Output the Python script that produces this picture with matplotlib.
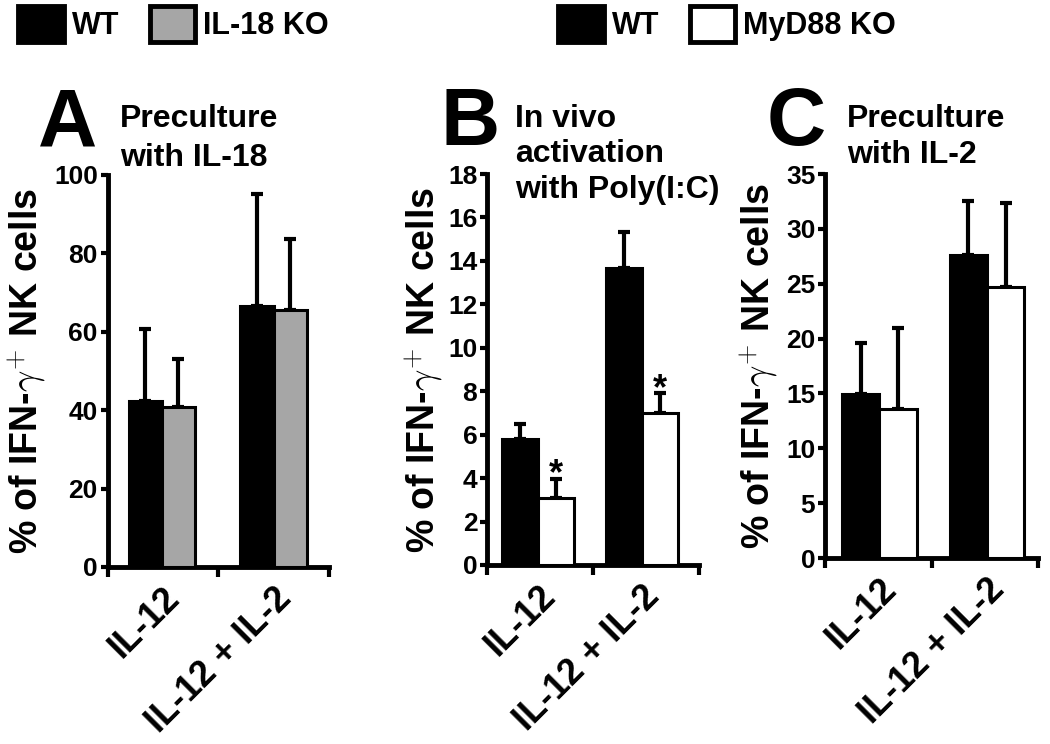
import matplotlib
matplotlib.use("Agg")
import matplotlib.pyplot as plt
from matplotlib.patches import Patch

plt.rcParams["font.family"] = ["Liberation Sans", "DejaVu Sans"]
plt.rcParams["font.weight"] = "bold"
plt.rcParams["mathtext.fontset"] = "cm"

# data
groups = ["IL-12", "IL-12 + IL-2"]

a_wt = [42.3, 66.7]
a_wt_err = [18.5, 28.4]
a_ko = [40.8, 65.6]
a_ko_err = [12.3, 18.0]

b_wt = [5.8, 13.66]
b_wt_err = [0.7, 1.65]
b_ko = [3.1, 7.0]
b_ko_err = [0.87, 0.9]
b_stars = ["*", "*"]

c_wt = [14.95, 27.6]
c_wt_err = [4.65, 4.9]
c_ko = [13.6, 24.7]
c_ko_err = [7.36, 7.7]

legend_a = ["WT", "IL-18 KO"]
legend_b = ["WT", "MyD88 KO"]
letters = ["A", "B", "C"]
titles = [["Preculture", "with IL-18"],
          ["In vivo", "activation", "with Poly(I:C)"],
          ["Preculture", "with IL-2"]]
ylabel = r"% of IFN-$\gamma^{\mathbf{+}}$ NK cells"

W, H = 1050, 744
fig = plt.figure(figsize=(W / 100, H / 100), dpi=100)


def px_axes(x0, x1, y_top, y_bot):
    return fig.add_axes([x0 / W, 1 - y_bot / H, (x1 - x0) / W, (y_bot - y_top) / H])


def panel(ax, wt, wt_err, ko, ko_err, ko_color, ymax, ystep, centers, width, label_x):
    x_wt = [c - width / 2 for c in centers]
    x_ko = [c + width / 2 for c in centers]
    ax.bar(x_wt, wt, width, color="black", edgecolor="black", linewidth=2.2, zorder=3)
    ax.bar(x_ko, ko, width, color=ko_color, edgecolor="black", linewidth=2.2, zorder=3)
    ax.errorbar(x_wt, wt, yerr=[[0] * len(wt), wt_err], fmt="none", ecolor="black",
                elinewidth=3, capsize=4.5, capthick=3, zorder=2)
    ax.errorbar(x_ko, ko, yerr=[[0] * len(ko), ko_err], fmt="none", ecolor="black",
                elinewidth=3, capsize=4.5, capthick=3, zorder=2)
    ax.set_xlim(0, 2)
    ax.set_ylim(0, ymax)
    ax.set_yticks(range(0, ymax + 1, ystep))
    ax.set_xticks([0, 1, 2])
    ax.set_xticklabels([])
    ax.set_xticks(centers, minor=True)
    ax.set_xticklabels(groups, minor=True, rotation=45, ha="right", va="top",
                       rotation_mode="anchor", fontsize=26, fontweight="bold")
    ax.tick_params(axis="x", which="minor", length=0, pad=10)
    ax.tick_params(axis="x", which="major", length=7, width=3)
    ax.tick_params(axis="y", length=5, width=3, labelsize=19, pad=2)
    for s in ["top", "right"]:
        ax.spines[s].set_visible(False)
    for s in ["left", "bottom"]:
        ax.spines[s].set_linewidth(3.5)
    ax.set_ylabel(ylabel, fontsize=27, fontweight="bold")
    ax.yaxis.set_label_coords(label_x, 0.5)
    return x_ko


ax_a = px_axes(107.5, 329, 175, 567)
panel(ax_a, a_wt, a_wt_err, a_ko, a_ko_err, "#a6a6a6", 100, 20, [0.49, 1.5], 0.3, -0.27)

ax_b = px_axes(487, 699, 174, 565)
ko_x = panel(ax_b, b_wt, b_wt_err, b_ko, b_ko_err, "white", 18, 2, [0.48, 1.46], 0.34, -0.2)
for x, v, e, s in zip(ko_x, b_ko, b_ko_err, b_stars):
    ax_b.annotate(s, (x, v + e), xytext=(0, -4), textcoords="offset points",
                  ha="center", va="baseline", fontsize=26, fontweight="bold")

ax_c = px_axes(825, 1038, 174, 558)
panel(ax_c, c_wt, c_wt_err, c_ko, c_ko_err, "white", 35, 5, [0.51, 1.52], 0.35, -0.21)

# panel letters and titles
letter_x = [38, 440, 767]
title_x = [120, 515, 847]
title_base = [[127, 166], [127, 162, 198], [127, 163]]
for lx, l, tx, lines, bases in zip(letter_x, letters, title_x, titles, title_base):
    fig.text(lx / W, 1 - 145 / H, l, fontsize=59, fontweight="bold", va="baseline")
    for line, b in zip(lines, bases):
        fig.text(tx / W, 1 - b / H, line, fontsize=23, fontweight="bold", va="baseline")

# legends
h_a = [Patch(facecolor="black", edgecolor="black", linewidth=3.5),
       Patch(facecolor="#a6a6a6", edgecolor="black", linewidth=3.5)]
h_b = [Patch(facecolor="black", edgecolor="black", linewidth=3.5),
       Patch(facecolor="white", edgecolor="black", linewidth=3.5)]
for handles, labels, lx in [(h_a, legend_a, 18), (h_b, legend_b, 558)]:
    fig.legend(handles, labels, loc="upper left", bbox_to_anchor=(lx / W, 1 - 6 / H),
               ncol=2, frameon=False, handlelength=1.5, handleheight=1.45,
               handletextpad=0.25, columnspacing=1.0, borderpad=0, borderaxespad=0,
               prop={"weight": "bold", "size": 22})

fig.savefig("out.png", dpi=100)
